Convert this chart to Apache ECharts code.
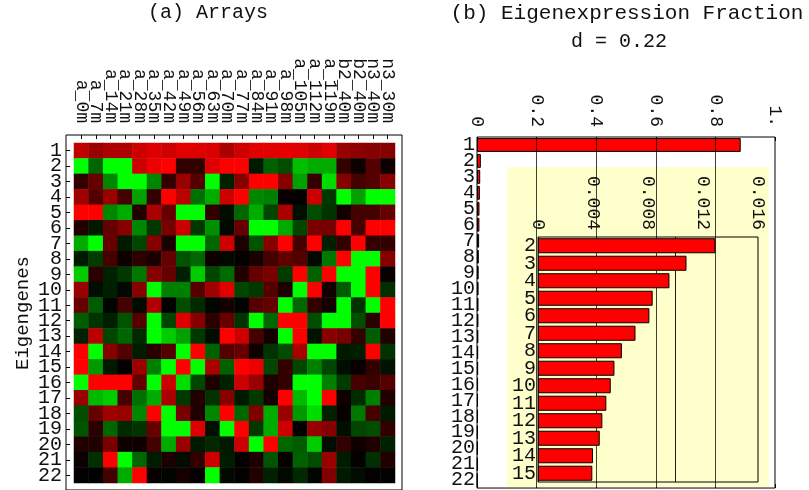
<!DOCTYPE html>
<html><head><meta charset="utf-8">
<script src="https://cdn.jsdelivr.net/npm/echarts@6/dist/echarts.min.js"></script>
<style>html,body{margin:0;padding:0;background:#fff}#c{width:809px;height:490px}</style>
</head><body><div id="c"></div>
<script>
const arrays = ['a_0m','a_7m','a_14m','a_21m','a_28m','a_35m','a_42m','a_49m','a_56m','a_63m','a_70m','a_77m','a_84m','a_91m','a_98m','a_105m','a_112m','a_119m','b2_40m','b2_40m','n3_40m','n3_30m'];
const eigengenes = ['1','2','3','4','5','6','7','8','9','10','11','12','13','14','15','16','17','18','19','20','21','22'];
const heat = [
[0.75,0.6,0.68,0.68,0.8,0.87,0.8,0.88,0.87,0.85,0.67, 0.8,0.88,0.88,0.9,0.88,0.8,0.88,0.6,0.55,0.53,0.53],
[-1,-0.4,-1,-1,0.8,0.93,1,0.2,0.2,0.87,1, 1,-0.1,-0.38,-0.3,-0.75,-0.67,-0.67,0.2,0.06,0.33,0.06],
[0.2,0.4,-0.53,-1,-1,-0.53,0.2,0.6,0.33,-1,-0.13, 0.53,1,1,0.53,-0.63,0.2,-0.87,0.53,0.27,0.33,0.53],
[0.63,0.33,0.6,0.27,-0.63,0.2,1,0.73,-0.44,-0.67,0.8, 1,-0.53,-0.5,0.03,0.02,0.8,-0.22,-1,-0.63,-1,-1],
[1,1,-0.53,-0.67,0.13,0.67,0.4,-1,-1,0.19,-0.05, -0.4,-0.67,-0.27,0.67,-0.06,-0.3,-0.2,0.08,0.27,0.27,0.4],
[0.13,-0.1,0.4,0.53,-0.53,-0.22,0.47,0.8,-0.22,-0.56,-0.03, 0.4,-1,-1,-0.67,-0.27,0.47,0.47,1,0.27,1,1],
[-0.67,-1,0.4,-0.1,-0.27,0.53,0.1,-1,-1,-0.4,0.8, 0.12,-0.33,0.53,1,0.27,1,-0.12,0.2,1,0.2,0.2],
[-0.1,-0.23,0.27,0.06,0.19,0.1,0.4,-0.33,-0.4,0.06,-0.03, 0.02,0.1,0.27,0.38,0.33,-0.03,-0.47,1,-1,-1,0.53],
[-0.8,0.17,-0.13,-0.22,-0.47,0.53,0.4,-0.12,-0.8,-0.27,-0.42, 0.13,0.4,0.47,-0.23,1,-0.38,1,-1,-1,1,0.04],
[0.6,-0.05,-0.12,-0.03,0.53,-1,-0.5,-0.5,0.33,0.63,0.88, -0.27,-0.22,0.33,0.12,-1,1,0.07,-0.36,-1,1,-0.18],
[0.4,-0.36,-0.02,0.27,-0.04,0.69,0,-0.3,-0.16,-0.02,0.08, -0.01,0.33,0.4,-1,-0.4,0.2,0.08,-1,-0.2,-1,1],
[-0.36,-0.2,-0.12,-0.33,0.33,-1,-0.27,0.87,0.53,0.17,0.4, -0.2,-1,-0.4,1,1,-0.3,-1,-1,-0.3,0.17,1],
[-0.13,0.73,-0.27,-0.4,-0.16,-1,-0.8,-0.63,-0.22,-0.05,1, 0.8,0.27,0.08,-1,1,-0.07,0.53,0.47,0.2,-0.36,0.13],
[1,-1,0.53,0.33,-0.11,0.16,0.33,-1,1,-0.38,0.33, 0.4,0.06,-0.2,-0.3,0.67,-1,-1,-0.1,-0.12,1,-0.2],
[1,-0.6,-0.1,0.02,0.6,-0.5,-1,1,-1,0.67,-0.38, 1,0.93,-0.27,0.2,-0.27,-0.5,-0.27,-0.05,0.03,0.2,-0.07],
[-1,1,1,1,0.4,-1,0.8,-0.87,-0.27,0.12,-0.13, 0.8,0.6,0.12,0.2,-1,-1,-0.5,-0.23,0.27,0.23,0.33],
[0.6,-0.73,-0.8,0.27,-0.44,-0.67,0.67,-0.22,0.13,-0.2,0.53, -0.1,-0.22,0.08,1,-0.73,-1,1,0.06,-0.17,-0.5,0.13],
[-0.3,0.4,0.63,0.6,-0.53,1,-1,0.47,0.12,-0.53,1, -0.4,0.5,-0.67,0.6,-0.6,-0.87,-0.13,0.03,-0.47,0.27,-0.1],
[-0.33,0.17,-0.4,-0.16,-0.2,0.4,-1,-1,0.87,-0.06,-1, 1,-0.22,-0.67,0.8,0,0.6,0.53,-0.06,-0.27,-0.3,0.19],
[0.13,0.13,0.47,0.06,0.06,0.27,-0.67,0.6,-0.1,-0.16,-0.1, 0.8,-1,1,-0.4,-0.36,-0.8,-0.05,0.2,0.06,0.12,-0.13],
[0.05,-0.19,1,-1,-0.4,-0.11,0.1,-0.05,0.2,0.8,-0.11, 0.02,0.1,-0.33,0.02,-0.38,-0.3,0.6,-0.11,0.01,-0.19,0.13],
[0.01,0,0.27,-0.67,1,0.03,-0.02,0.08,0.02,-1,-0.03, 0.01,0.13,-0.13,-0.03,-0.16,-0.02,0.5,-0.1,-0.05,0.02,0.01]
];
const fractionLabels = eigengenes;
const fractions = [0.885,0.0129,0.0108,0.00956,0.00834,0.0081,0.00709,0.0061,0.00556,0.00529,0.00497,0.00468,0.00449,0.0040,0.00395,0.0037,0.0033,0.003,0.0027,0.0024,0.0021,0.0018];
const insetLabels = ['2','3','4','5','6','7','8','9','10','11','12','13','14','15'];
const insetValues = fractions.slice(1, 15);
const outerTicks = [0.2, 0.4, 0.6, 0.8];
const insetTicks = [0.004, 0.008, 0.012];

const F = "'Liberation Mono','DejaVu Sans Mono',monospace";
const TC = '#111';
const heatData = [];
heat.forEach((row, r) => row.forEach((v, c) => heatData.push([c, r, v])));

const chart = echarts.init(document.getElementById('c'), null, {renderer: 'canvas'});
const lbl = (size, extra) => Object.assign({fontFamily: F, fontSize: size, color: TC}, extra || {});
const option = {
  animation: false,
  backgroundColor: '#fff',
  grid: [
    {left: 74, top: 143, width: 321, height: 340},
    {left: 66, top: 135, width: 336, height: 356, show: true, borderColor: '#000', borderWidth: 1, backgroundColor: 'transparent'},
    {left: 477, top: 137, width: 298, height: 354, show: true, borderColor: '#000', borderWidth: 1, backgroundColor: 'transparent'},
    {left: 538, top: 237, width: 220, height: 245, show: true, borderColor: '#000', borderWidth: 1, backgroundColor: 'transparent', z: 10}
  ],
  xAxis: [
    {gridIndex: 0, type: 'category', data: arrays, position: 'top', offset: 8,
     axisLine: {show: false}, axisTick: {show: true, inside: true, length: 4, alignWithLabel: true, lineStyle: {color: '#000'}},
     axisLabel: lbl(18, {rotate: 90, interval: 0, margin: 12, align: 'right', verticalAlign: 'middle', hideOverlap: false}), splitLine: {show: false}},
    {gridIndex: 1, type: 'value', show: false, min: 0, max: 1},
    {gridIndex: 2, type: 'value', min: 0, max: 1, interval: 0.2, position: 'top',
     axisLine: {show: false}, splitLine: {show: false},
     axisTick: {show: true, inside: true, length: 4, lineStyle: {color: '#000'}},
     axisLabel: lbl(18, {rotate: 90, margin: 10, align: 'right', verticalAlign: 'middle', formatter: v => v === 0 ? '0' : (v === 1 ? '1.' : String(+v.toFixed(1)))})},
    {gridIndex: 2, type: 'value', min: 0, max: 1, interval: 0.2, position: 'bottom',
     axisLine: {show: false}, splitLine: {show: false}, axisLabel: {show: false},
     axisTick: {show: true, inside: true, length: 4, lineStyle: {color: '#000'}}},
    {gridIndex: 3, type: 'value', min: 0, max: 0.016, interval: 0.004, position: 'top', z: 10,
     axisLine: {show: false}, splitLine: {show: false},
     axisTick: {show: false},
     axisLabel: lbl(18, {rotate: 90, margin: 7, align: 'right', verticalAlign: 'middle', formatter: v => v === 0 ? '0' : v.toFixed(3)})}
  ],
  yAxis: [
    {gridIndex: 0, type: 'category', data: eigengenes, inverse: true, offset: 8,
     axisLine: {show: false}, axisTick: {show: true, inside: true, length: 4, alignWithLabel: true, lineStyle: {color: '#000'}},
     axisLabel: lbl(20, {interval: 0, margin: 4}),
     name: 'Eigengenes', nameLocation: 'middle', nameRotate: 90, nameGap: 34,
     nameTextStyle: lbl(19)},
    {gridIndex: 1, type: 'value', show: false, min: 0, max: 1},
    {gridIndex: 2, type: 'category', data: fractionLabels, inverse: true,
     axisLine: {show: false}, axisTick: {show: false},
     axisLabel: lbl(20, {interval: 0, margin: 2})},
    {gridIndex: 3, type: 'category', data: insetLabels, inverse: true, z: 10,
     axisLine: {show: false}, axisTick: {show: false},
     axisLabel: lbl(20, {interval: 0, margin: 2})}
  ],
  visualMap: {type: 'continuous', min: -1, max: 1, show: false, seriesIndex: 0,
    inRange: {color: ['#00ff00', '#000000', '#ff0000']}},
  graphic: {elements: [
    {type: 'rect', z: 5, shape: {x: 507, y: 167, width: 262, height: 320}, style: {fill: '#ffffcc'}, silent: true},
    {type: 'text', z: 20, x: 208, y: 13, style: {text: '(a) Arrays', font: "20px " + F, fill: TC, align: 'center', verticalAlign: 'middle', textAlign: 'center', textVerticalAlign: 'middle'}},
    {type: 'text', z: 20, x: 627, y: 13, style: {text: '(b) Eigenexpression Fraction', font: "21px " + F, fill: TC, align: 'center', verticalAlign: 'middle', textAlign: 'center', textVerticalAlign: 'middle'}},
    {type: 'text', z: 20, x: 619, y: 42, style: {text: 'd = 0.22', font: "20px " + F, fill: TC, align: 'center', verticalAlign: 'middle', textAlign: 'center', textVerticalAlign: 'middle'}}
  ]},
  series: [
    {type: 'heatmap', xAxisIndex: 0, yAxisIndex: 0, data: heatData, progressive: 0,
     itemStyle: {borderWidth: 0}, emphasis: {disabled: true}},
    {type: 'bar', xAxisIndex: 2, yAxisIndex: 2, data: fractions, barCategoryGap: '13%',
     itemStyle: {color: '#ff0000', borderColor: '#000', borderWidth: 1},
     emphasis: {disabled: true},
     markLine: {silent: true, symbol: 'none', label: {show: false},
       lineStyle: {color: 'rgba(0,0,0,0.75)', type: 'solid', width: 1},
       data: outerTicks.map(v => ({xAxis: v}))}},
    {type: 'bar', xAxisIndex: 4, yAxisIndex: 3, data: insetValues, barCategoryGap: '14%', z: 12,
     itemStyle: {color: '#ff0000', borderColor: '#000', borderWidth: 1},
     emphasis: {disabled: true},
     markLine: {silent: true, symbol: 'none', label: {show: false},
       lineStyle: {color: 'rgba(0,0,0,0.65)', type: 'solid', width: 1},
       data: insetTicks.map(v => ({xAxis: v}))}}
  ]
};
chart.setOption(option);
</script>
</body></html>
